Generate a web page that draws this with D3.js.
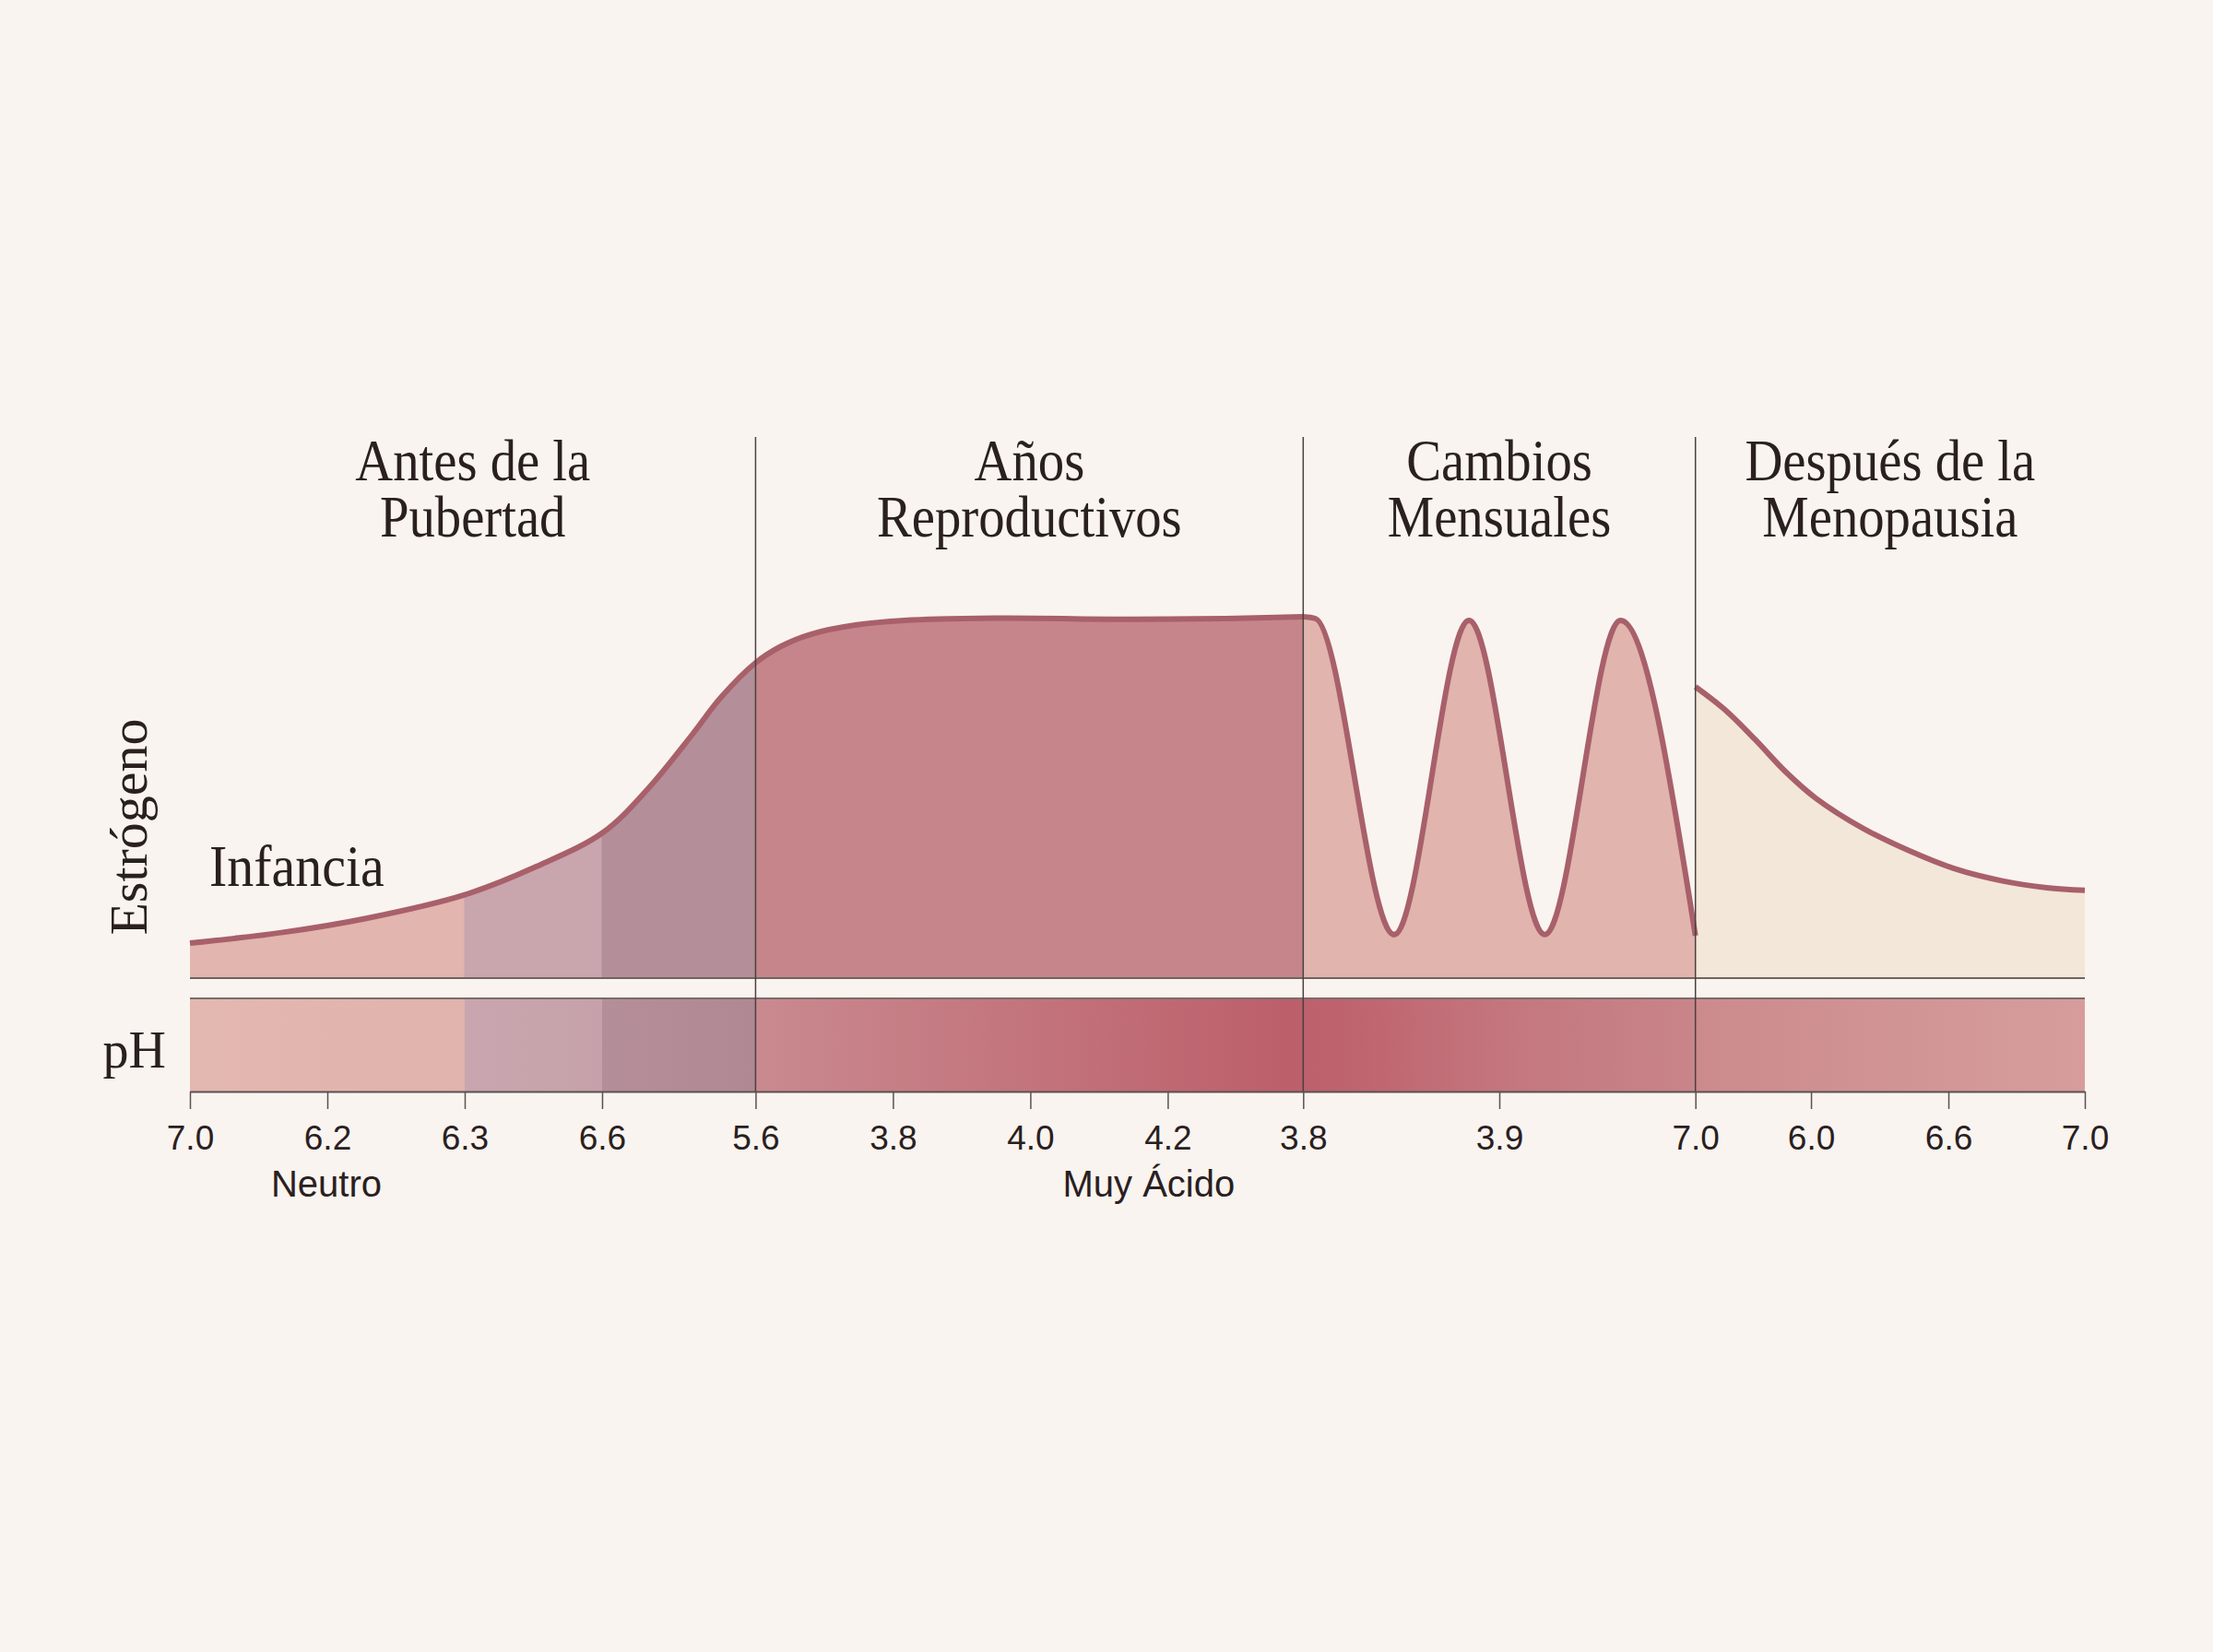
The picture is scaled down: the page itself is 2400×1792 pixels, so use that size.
<!doctype html>
<html>
<head>
<meta charset="utf-8">
<title>Estrógeno y pH</title>
<script src="https://cdn.jsdelivr.net/npm/d3@7"></script>
<style>
  html, body { margin: 0; padding: 0; background: #f9f4ef; }
  svg { display: block; }
</style>
</head>
<body>
<svg width="2400" height="1792"></svg>
<script>
// ---- data (x = position along the life line, 0..100; level = relative estrogen 0..100)
var stageTitles = [
  ["Antes de la", "Pubertad"],
  ["Años", "Reproductivos"],
  ["Cambios", "Mensuales"],
  ["Después de la", "Menopausia"]
];
var stageBounds = [0, 29.85, 58.75, 79.45, 100];
var fillBandEdges = [0, 14.5, 21.75, 29.85, 58.75, 79.45, 100];

var tickPos = [0, 7.25, 14.5, 21.75, 29.85, 37.1, 44.35, 51.6, 58.75, 69.1, 79.45, 85.55, 92.8, 100];
var tickLabels = ["7.0", "6.2", "6.3", "6.6", "5.6", "3.8", "4.0", "4.2", "3.8", "3.9", "7.0", "6.0", "6.6", "7.0"];
var phNotes = [{ x: 7.2, text: "Neutro" }, { x: 50.6, text: "Muy Ácido" }];

// childhood -> puberty -> reproductive plateau
var estrogenRise = [
  [0, 9.5], [4.9, 12.4], [9.3, 16.2], [14.5, 22.6], [18.3, 30.3], [21.8, 39.5],
  [24.2, 51.5], [26.5, 66], [28, 76], [29.85, 85.5], [31.2, 90], [32.8, 93.3],
  [35.2, 95.8], [37.7, 97], [42.5, 97.6], [49.8, 97.3], [54.7, 97.5], [58.75, 98]
];
// monthly cycles (peaks and troughs)
var estrogenCycles = [
  [58.75, 98], [59.4, 97.5], [63.55, 11.8], [67.5, 97], [71.5, 11.8],
  [75.5, 97], [79.45, 11.5]
];
// after menopause
var estrogenPost = [
  [79.45, 79], [81, 72.8], [82.6, 64.7], [84.2, 56], [85.8, 48.8], [88.3, 40.6],
  [90.7, 34.6], [93.1, 29.7], [95.6, 26.4], [98, 24.5], [100, 23.8]
];

// pH band colour stops (x position, colour)
var phStops = [
  [0, "#e3b8b0"], [14.5, "#e0b3ac"], [14.5, "#c9a6af"], [21.75, "#c6a1aa"],
  [21.75, "#b48e99"], [29.85, "#b08893"], [29.85, "#c98a8f"], [40, "#c57a82"],
  [50, "#c06b75"], [58, "#bc5f6b"], [62, "#bf6570"], [70, "#c4777f"],
  [79.45, "#c8858a"], [79.45, "#cc8a8c"], [100, "#d69d9c"]
];

// ---- styles
var fillColors = ["#e2b5ae", "#c9a5ae", "#b48f9a", "#c6858a", "#e1b4ae", "#f3e7da"];
var lineColor = "#a8606a";
var inkColor = "#2a201f";
var serif = "'Liberation Serif', 'DejaVu Serif', serif";
var sans = "'Liberation Sans', Arial, sans-serif";

var svg = d3.select("svg");
svg.append("rect").attr("width", 2400).attr("height", 1792).attr("fill", "#f9f4ef");

var x = d3.scaleLinear().domain([0, 100]).range([206, 2261]);
var y = d3.scaleLinear().domain([0, 100]).range([1061, 661]);
var phTop = 1083, phBottom = 1184;

var defs = svg.append("defs");

function areaGen(curve) {
  return d3.area()
    .x(function(d) { return x(d[0]); })
    .y0(y(0))
    .y1(function(d) { return y(d[1]); })
    .curve(curve);
}
function lineGen(curve) {
  return d3.line()
    .x(function(d) { return x(d[0]); })
    .y(function(d) { return y(d[1]); })
    .curve(curve);
}
var smooth = d3.curveCatmullRom.alpha(0.5);
var series = [
  { data: estrogenRise, curve: smooth },
  { data: estrogenCycles, curve: d3.curveMonotoneX },
  { data: estrogenPost, curve: smooth }
];

// clip for the estrogen areas
var clip = defs.append("clipPath").attr("id", "estClip");
series.forEach(function(s) {
  clip.append("path").attr("d", areaGen(s.curve)(s.data));
});

var grad = defs.append("linearGradient")
  .attr("id", "phGrad")
  .attr("gradientUnits", "userSpaceOnUse")
  .attr("x1", x(0)).attr("x2", x(100))
  .attr("y1", 0).attr("y2", 0);
grad.selectAll("stop").data(phStops).enter().append("stop")
  .attr("offset", function(d) { return d[0] / 100; })
  .attr("stop-color", function(d) { return d[1]; });

// estrogen fill bands
svg.append("g").attr("clip-path", "url(#estClip)")
  .selectAll("rect")
  .data(d3.pairs(fillBandEdges))
  .enter().append("rect")
  .attr("x", function(d) { return x(d[0]) - 0.5; })
  .attr("width", function(d) { return x(d[1]) - x(d[0]) + 1; })
  .attr("y", 400)
  .attr("height", y(0) - 400)
  .attr("fill", function(d, i) { return fillColors[i]; });

// estrogen lines
series.forEach(function(s) {
  svg.append("path").attr("d", lineGen(s.curve)(s.data))
    .attr("fill", "none")
    .attr("stroke", lineColor)
    .attr("stroke-width", 6)
    .attr("stroke-linejoin", "round");
});

// baseline of estrogen panel
svg.append("line")
  .attr("x1", x(0)).attr("x2", x(100))
  .attr("y1", y(0)).attr("y2", y(0))
  .attr("stroke", "#6f6461").attr("stroke-width", 2);

// pH band
svg.append("rect")
  .attr("x", x(0)).attr("width", x(100) - x(0))
  .attr("y", phTop).attr("height", phBottom - phTop)
  .attr("fill", "url(#phGrad)");
svg.append("line")
  .attr("x1", x(0)).attr("x2", x(100))
  .attr("y1", phTop).attr("y2", phTop)
  .attr("stroke", "#7a6c68").attr("stroke-width", 2);

// stage dividers
svg.append("g").selectAll("line")
  .data(stageBounds.slice(1, -1))
  .enter().append("line")
  .attr("x1", function(d) { return x(d); })
  .attr("x2", function(d) { return x(d); })
  .attr("y1", 474).attr("y2", phBottom)
  .attr("stroke", "#4a4040").attr("stroke-width", 1.5);

// pH axis
var xAxis = d3.axisBottom(x)
  .tickValues(tickPos)
  .tickSize(19)
  .tickSizeOuter(0)
  .tickPadding(18)
  .tickFormat(function(d, i) { return tickLabels[i]; });

var axisG = svg.append("g")
  .attr("transform", "translate(0," + phBottom + ")")
  .call(xAxis);
axisG.select(".domain").attr("stroke", "#5b5150").attr("stroke-width", 2);
axisG.selectAll(".tick line").attr("stroke", "#5b5150").attr("stroke-width", 1.5);
axisG.selectAll(".tick text")
  .attr("fill", inkColor)
  .style("font-family", sans)
  .style("font-size", "37px");

svg.append("g").selectAll("text")
  .data(phNotes)
  .enter().append("text")
  .attr("x", function(d) { return x(d.x); })
  .attr("y", 1298)
  .attr("text-anchor", "middle")
  .attr("fill", inkColor)
  .style("font-family", sans)
  .style("font-size", "40px")
  .text(function(d) { return d.text; });

// stage titles
var titles = svg.append("g").selectAll("g")
  .data(stageTitles)
  .enter().append("g")
  .attr("transform", function(d, i) {
    var cx = (x(stageBounds[i]) + x(stageBounds[i + 1])) / 2;
    return "translate(" + cx + ",521) scale(0.9,1)";
  });
titles.selectAll("text")
  .data(function(d) { return d; })
  .enter().append("text")
  .attr("y", function(d, j) { return j * 61; })
  .attr("text-anchor", "middle")
  .attr("fill", inkColor)
  .style("font-family", serif)
  .style("font-size", "63px")
  .text(function(d) { return d; });

// panel labels
svg.append("text")
  .attr("transform", "translate(159,897) rotate(-90)")
  .attr("text-anchor", "middle")
  .attr("fill", inkColor)
  .style("font-family", serif)
  .style("font-size", "58px")
  .text("Estrógeno");

svg.append("text")
  .attr("transform", "translate(227,961) scale(0.92,1)")
  .attr("fill", inkColor)
  .style("font-family", serif)
  .style("font-size", "63px")
  .text("Infancia");

svg.append("text")
  .attr("x", 180).attr("y", 1158)
  .attr("text-anchor", "end")
  .attr("fill", inkColor)
  .style("font-family", serif)
  .style("font-size", "56px")
  .text("pH");
</script>
</body>
</html>
